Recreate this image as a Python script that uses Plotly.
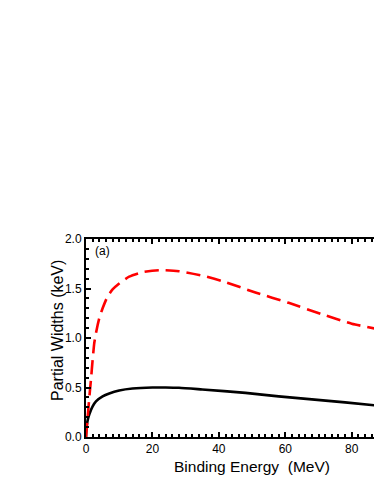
import plotly.graph_objects as go

# Binding energy (MeV) and partial widths (keV)
red_x = [0, 0.5, 1, 1.5, 2, 2.5, 3, 4, 5, 6.5, 8, 10, 13, 17, 22, 28, 35, 41, 51, 61, 71, 80, 87]
red_y = [0, 0.2, 0.4, 0.58, 0.78, 0.95, 1.05, 1.2, 1.3, 1.42, 1.49, 1.55, 1.62, 1.665, 1.685, 1.675, 1.63, 1.575, 1.46, 1.355, 1.24, 1.145, 1.095]

black_x = [0, 0.1, 0.5, 1, 2, 3, 5, 7, 10, 14, 20, 24, 28, 35, 48, 58, 68, 78, 87]
black_y = [0, 0.08, 0.17, 0.23, 0.31, 0.36, 0.41, 0.44, 0.47, 0.49, 0.5, 0.5, 0.497, 0.48, 0.446, 0.41, 0.38, 0.35, 0.32]

x_ticks = [0, 20, 40, 60, 80]
y_ticks = [0.0, 0.5, 1.0, 1.5, 2.0]

fig = go.Figure()
fig.add_trace(go.Scatter(x=black_x, y=black_y, mode="lines",
                         line=dict(color="black", width=2.6, shape="spline", smoothing=0.6),
                         showlegend=False, hoverinfo="skip"))
fig.add_trace(go.Scatter(x=red_x, y=red_y, mode="lines",
                         line=dict(color="#ff0000", width=2.6, dash="14px,7px", shape="spline", smoothing=0.6),
                         showlegend=False, hoverinfo="skip"))

font_family = "Liberation Sans, Arial, sans-serif"

W, H = 374, 484
l, r, t, b = 86, 0, 239, 47
pw, ph = W - l - r, H - t - b


def px(xp):
    return (xp - l) / pw


def py(yp):
    return (H - b - yp) / ph


fig.update_layout(
    width=W, height=H,
    margin=dict(l=l, r=r, t=t, b=b, pad=0),
    paper_bgcolor="white", plot_bgcolor="white",
    font=dict(family=font_family, size=12, color="black"),
    xaxis=dict(range=[0, 86.7], tickvals=x_ticks, ticktext=[str(v) for v in x_ticks],
               ticks="inside", ticklen=5, tickwidth=1.5, tickcolor="black",
               minor=dict(dtick=2, ticks="inside", ticklen=3, tickwidth=1.5, tickcolor="black"),
               showline=True, linewidth=2, linecolor="black", mirror="ticks",
               showgrid=False, zeroline=False, tickfont=dict(size=12), ticklabelstandoff=0),
    yaxis=dict(range=[0, 2.0], tickvals=y_ticks, ticktext=["%.1f" % v for v in y_ticks],
               ticks="inside", ticklen=5, tickwidth=1.5, tickcolor="black",
               minor=dict(dtick=0.1, ticks="inside", ticklen=3, tickwidth=1.5, tickcolor="black"),
               showline=True, linewidth=2, linecolor="black", mirror=False,
               showgrid=False, zeroline=False, tickfont=dict(size=12)),
    annotations=[
        dict(text="Binding Energy \u00a0(MeV)", x=50, xref="x", y=py(466), yref="paper",
             xanchor="center", yanchor="middle", showarrow=False, font=dict(size=15.5)),
        dict(text="Partial Widths (keV)", x=px(57), xref="paper", y=py(331), yref="paper",
             xanchor="center", yanchor="middle", showarrow=False, textangle=-90,
             font=dict(size=16)),
        dict(text="(a)", x=px(102.5), xref="paper", y=py(251), yref="paper",
             xanchor="center", yanchor="middle", showarrow=False, font=dict(size=12)),
    ],
)

fig.write_html("out.html", config={"displayModeBar": False},
               post_script="document.body.style.margin='0';document.body.style.overflow='hidden';")
